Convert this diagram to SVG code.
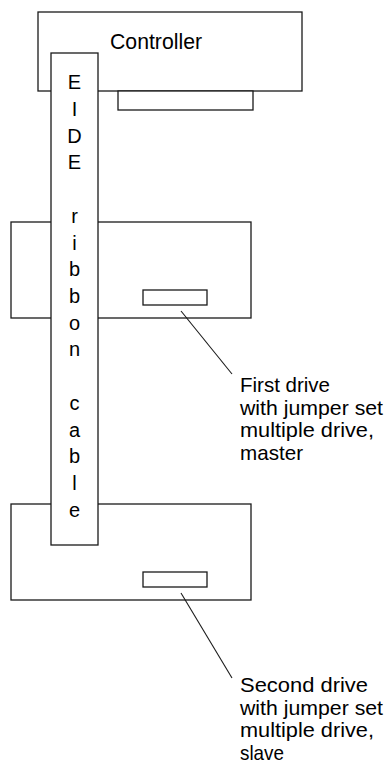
<svg xmlns="http://www.w3.org/2000/svg" width="391" height="774" viewBox="0 0 391 774">
<style>
.box{fill:#fff;stroke:#1a1a1a;stroke-width:1.3}
.ln{stroke:#1a1a1a;stroke-width:1.1;fill:none}
text{font-family:"Liberation Sans",Arial,sans-serif;fill:#000}
.lbl{font-size:21px}
.ctl{font-size:22px}
.cab{font-size:20px;text-anchor:middle}
</style>
<rect width="391" height="774" fill="#fff"/>
<g id="controller">
<rect class="box" x="38" y="12" width="264" height="79"/>
<rect class="box" x="118" y="91" width="135" height="19"/>
<text class="ctl" x="110" y="49" textLength="92" lengthAdjust="spacingAndGlyphs">Controller</text>
</g>
<g id="drive1">
<rect class="box" x="11" y="222" width="240" height="96"/>
<rect class="box" x="143" y="290" width="64" height="15"/>
</g>
<g id="drive2">
<rect class="box" x="11" y="504" width="240" height="96"/>
<rect class="box" x="143" y="572" width="64" height="15"/>
</g>
<g id="cable">
<rect class="box" x="51" y="53" width="47" height="492"/>
<text class="cab" x="74.5" y="89">E</text>
<text class="cab" x="74.5" y="116">I</text>
<text class="cab" x="74.5" y="143">D</text>
<text class="cab" x="74.5" y="169">E</text>
<text class="cab" x="74.5" y="223">r</text>
<text class="cab" x="74.5" y="250">i</text>
<text class="cab" x="74.5" y="276">b</text>
<text class="cab" x="74.5" y="303">b</text>
<text class="cab" x="74.5" y="330">o</text>
<text class="cab" x="74.5" y="356">n</text>
<text class="cab" x="74.5" y="410">c</text>
<text class="cab" x="74.5" y="437">a</text>
<text class="cab" x="74.5" y="463">b</text>
<text class="cab" x="74.5" y="490">l</text>
<text class="cab" x="74.5" y="517">e</text>
</g>
<g id="connectors">
<line class="ln" x1="181" y1="311" x2="232" y2="374"/>
<line class="ln" x1="181" y1="593" x2="232" y2="678"/>
</g>
<g id="label1">
<text class="lbl"><tspan x="240" y="392" textLength="90" lengthAdjust="spacingAndGlyphs">First drive</tspan><tspan x="240" y="414.5" textLength="143" lengthAdjust="spacingAndGlyphs">with jumper set</tspan><tspan x="240" y="437" textLength="134" lengthAdjust="spacingAndGlyphs">multiple drive,</tspan><tspan x="240" y="459.5" textLength="63" lengthAdjust="spacingAndGlyphs">master</tspan></text>
</g>
<g id="label2">
<text class="lbl"><tspan x="240" y="692" textLength="128" lengthAdjust="spacingAndGlyphs">Second drive</tspan><tspan x="240" y="714.5" textLength="143" lengthAdjust="spacingAndGlyphs">with jumper set</tspan><tspan x="240" y="737" textLength="134" lengthAdjust="spacingAndGlyphs">multiple drive,</tspan><tspan x="240" y="759.5" textLength="44" lengthAdjust="spacingAndGlyphs">slave</tspan></text>
</g>
</svg>
